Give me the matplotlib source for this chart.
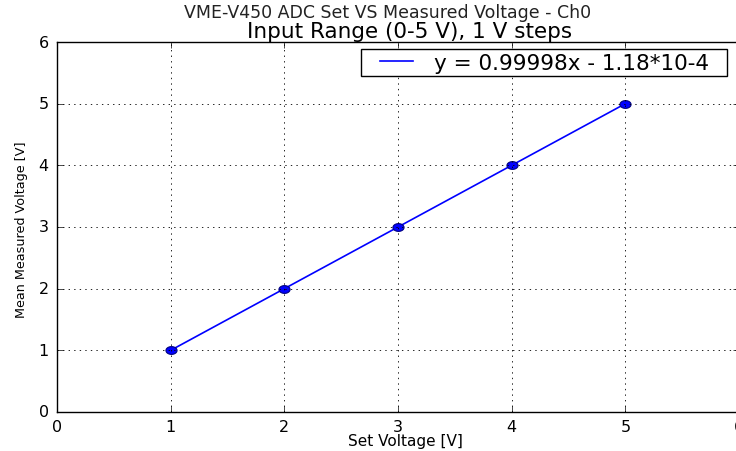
import matplotlib
matplotlib.use('Agg')
import matplotlib.pyplot as plt
import numpy as np
from matplotlib.path import Path
from matplotlib.legend_handler import HandlerLine2D

plt.style.use('classic')

set_voltage = [1, 2, 3, 4, 5]
measured_voltage = [1.0, 2.0, 3.0, 4.0, 5.0]
fit_slope = 0.99998
fit_intercept = -1.18e-4
fit_label = "y = 0.99998x - 1.18*10-4"

x_ticks = [0, 1, 2, 3, 4, 5, 6]
y_ticks = [0, 1, 2, 3, 4, 5, 6]


def ellipse_marker():
    # the reference looks stretched sideways, so markers are wide ellipses
    t = np.linspace(0, 2 * np.pi, 40)
    verts = np.column_stack([np.cos(t), 0.7 * np.sin(t)])
    return Path(verts, closed=True)


class ShiftedLine(HandlerLine2D):
    # leaves some blank space left of the legend line
    def __init__(self, shift, **kw):
        super().__init__(**kw)
        self.shift = shift

    def create_artists(self, legend, orig_handle, xdescent, ydescent, width, height, fontsize, trans):
        return super().create_artists(legend, orig_handle, xdescent - self.shift, ydescent,
                                      width - self.shift, height, fontsize, trans)


def main():
    W, H = 736, 452
    fig = plt.figure(figsize=(W / 100, H / 100), dpi=100, facecolor='white')
    left, right, bottom, top = 57, 739, 413, 43
    aw, ah = right - left, bottom - top
    ax = fig.add_axes([left / W, 1 - bottom / H, aw / W, ah / H])

    fit = np.polyval([fit_slope, fit_intercept], set_voltage)
    line, = ax.plot(set_voltage, fit, '-', color='b', linewidth=1.2, label=fit_label + "  ")
    ax.plot(set_voltage, measured_voltage, linestyle='none', marker=ellipse_marker(),
            markersize=8, color='b', markeredgecolor='#000080', markeredgewidth=0.8)

    ax.set_xlim(0, 6)
    ax.set_ylim(0, 6)
    ax.set_xticks(x_ticks)
    ax.set_yticks(y_ticks)
    ax.tick_params(labelsize=11.5, direction='in', length=4, top=True, right=True)
    ax.tick_params(axis='x', pad=5)
    ax.tick_params(axis='y', pad=6)
    ax.grid(True, linestyle=':', color='black', linewidth=0.6)

    ax.set_xlabel("Set Voltage [V]", fontsize=11)
    ax.xaxis.set_label_coords((405 - left) / aw, -(434 - bottom) / ah)
    ax.set_ylabel("Mean Measured Voltage [V]", fontsize=9.2)
    ax.yaxis.set_label_coords(-(left - 28) / aw, (bottom - 230) / ah)

    fig.text(388 / W, 1 - 18 / H, "VME-V450 ADC Set VS Measured Voltage - Ch0",
             ha='center', va='baseline', fontsize=12.5, color='#222222')
    fig.text(410 / W, 1 - 37.5 / H, "Input Range (0-5 V), 1 V steps",
             ha='center', va='baseline', fontsize=15.5)

    fs = 15.5
    shift = 15 / 100 * 72  # px -> pt
    leg = ax.legend(handles=[line], loc='upper right',
                    bbox_to_anchor=((727 - left) / aw, (bottom - 50) / ah),
                    fontsize=fs, numpoints=1, handlelength=(33 / 100 * 72 + shift) / fs,
                    borderpad=0.17, borderaxespad=0, fancybox=False, handletextpad=1.0,
                    handler_map={line: ShiftedLine(shift)})
    leg.get_frame().set_edgecolor('black')
    leg.get_frame().set_linewidth(1.0)

    fig.savefig('out.png', dpi=100, facecolor='white')


if __name__ == '__main__':
    main()
